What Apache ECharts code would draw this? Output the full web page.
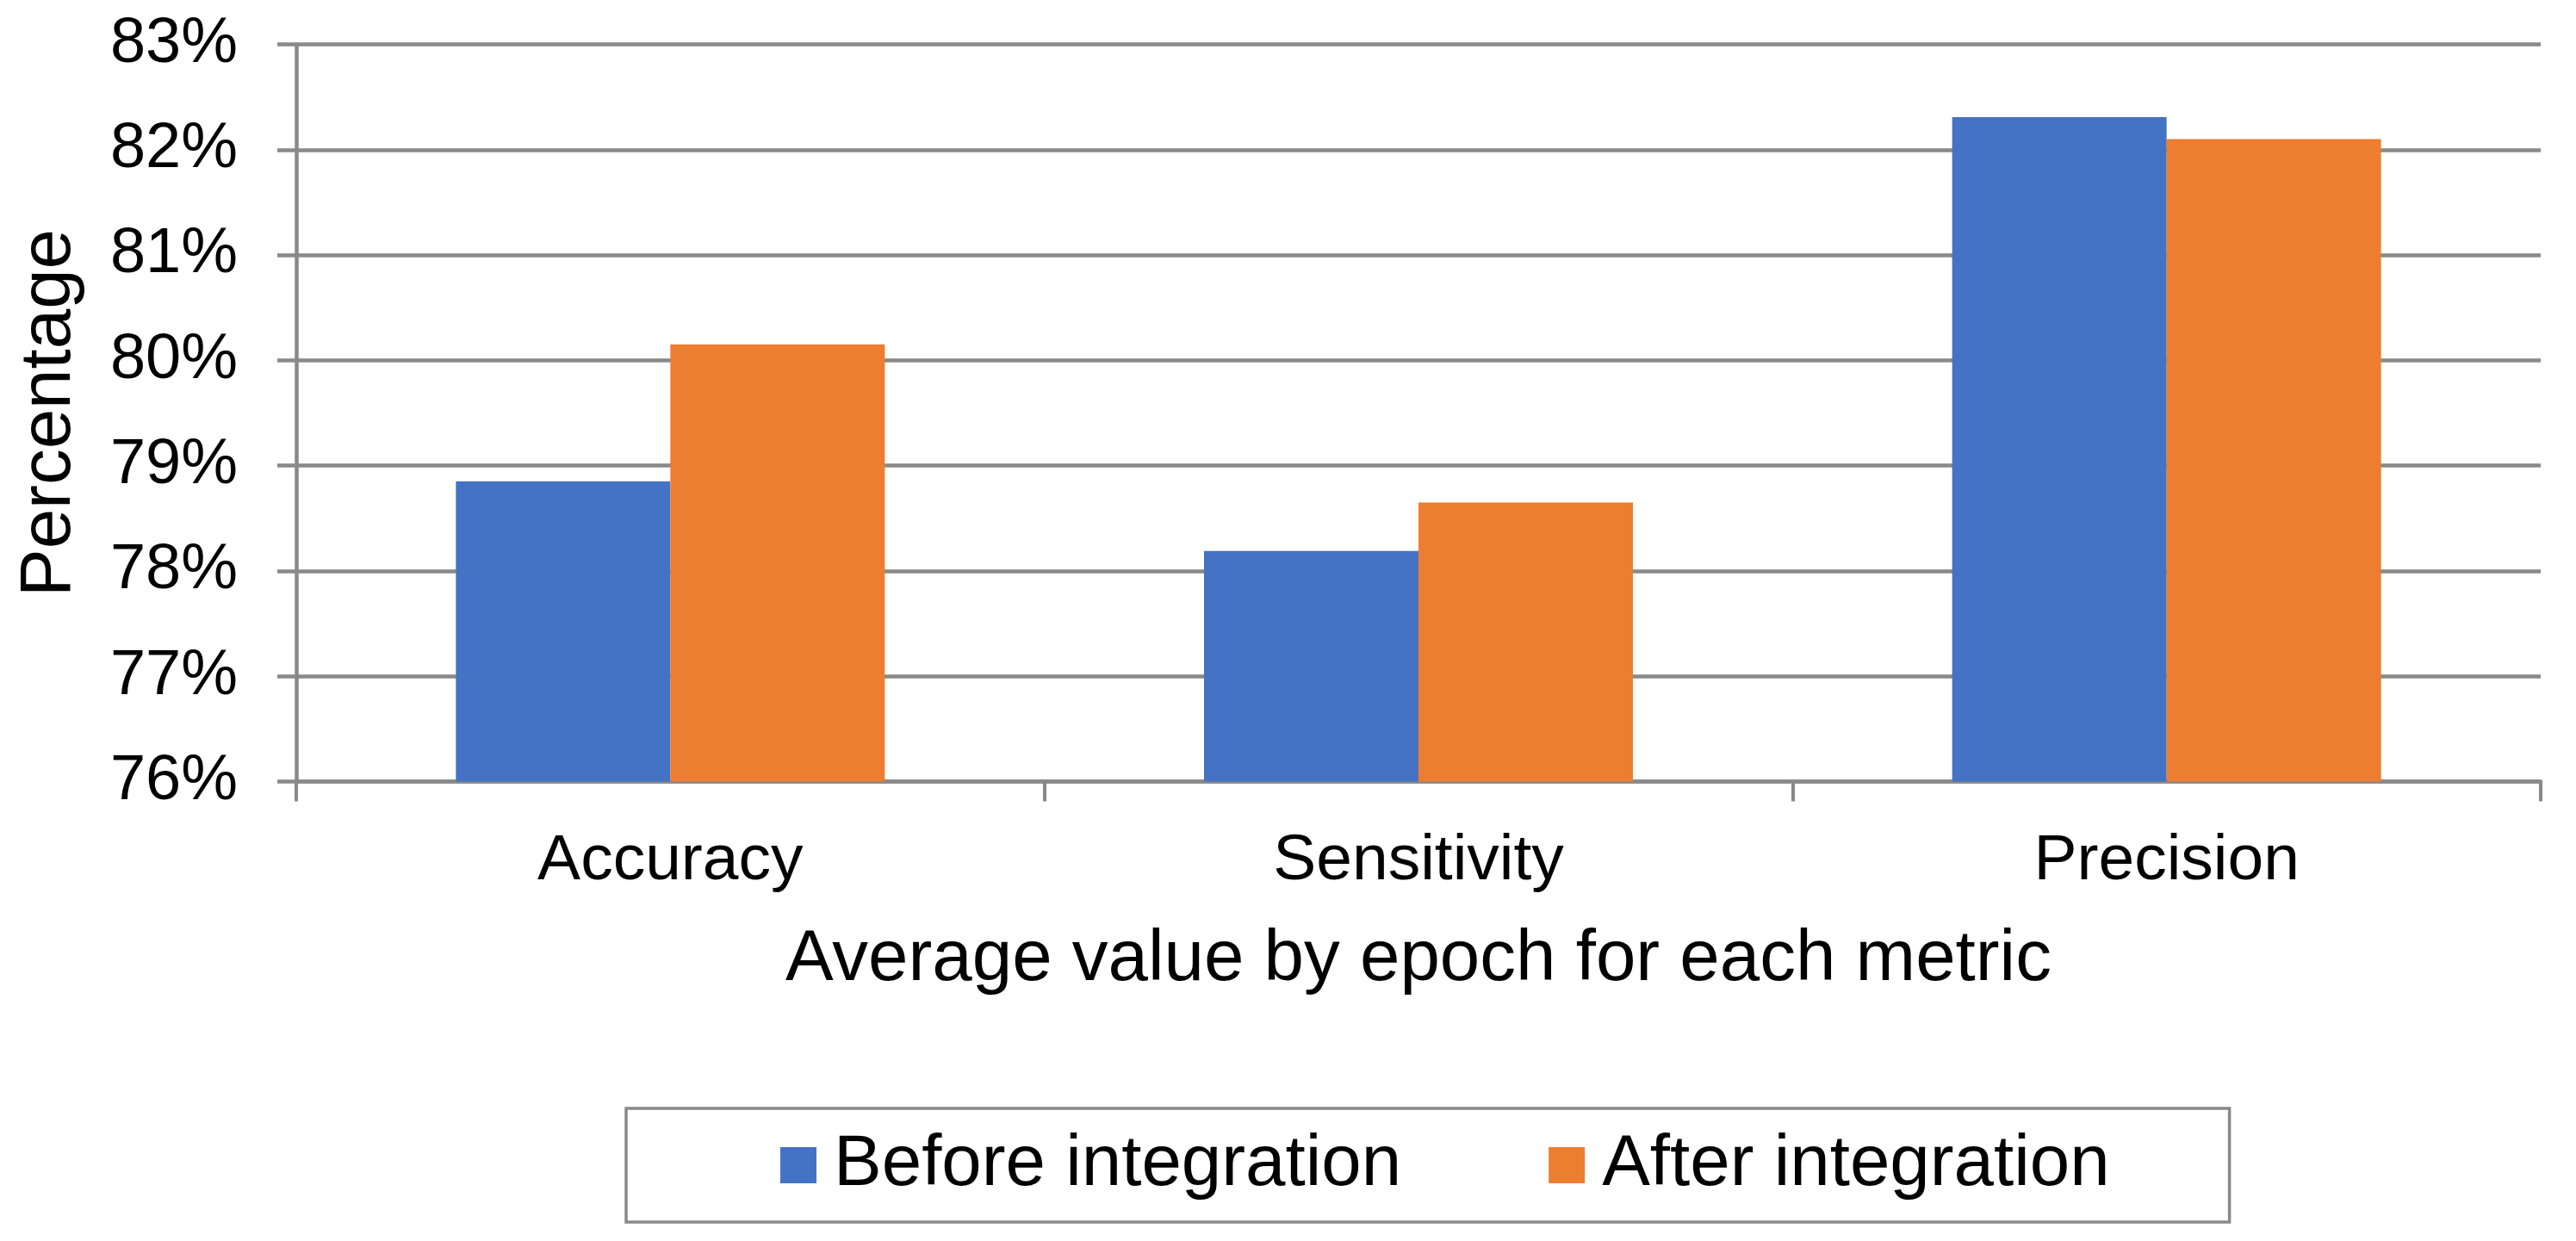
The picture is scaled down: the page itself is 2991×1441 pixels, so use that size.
<!DOCTYPE html>
<html>
<head>
<meta charset="utf-8">
<script src="https://cdn.jsdelivr.net/npm/echarts@6/dist/echarts.min.js"></script>
<style>
html,body{margin:0;padding:0;background:#fff;}
#chart{width:2991px;height:1441px;}
</style>
</head>
<body>
<div id="chart"></div>
<script>
const categories = ['Accuracy', 'Sensitivity', 'Precision'];
const seriesNames = ['Before integration', 'After integration'];
const beforeValues = [78.85, 78.19, 82.31];
const afterValues = [80.15, 78.65, 82.10];
const yMin = 76, yMax = 83, yStep = 1;

const FONT = '"Liberation Sans", Arial, sans-serif';
const GRAY = '#898989';

const chart = echarts.init(document.getElementById('chart'), null, {renderer: 'canvas'});
chart.setOption({
  backgroundColor: '#ffffff',
  animation: false,
  textStyle: {fontFamily: FONT, color: '#000'},
  grid: {left: 344, right: 41, top: 51.5, bottom: 533.5},
  legend: {
    data: seriesNames,
    left: 727,
    top: 1287,
    icon: 'rect',
    itemWidth: 42,
    itemHeight: 42,
    itemGap: 171,
    padding: [24, 139, 24, 179],
    borderColor: GRAY,
    borderWidth: 3.5,
    textStyle: {fontSize: 83.5, fontFamily: FONT, color: '#000', padding: [0, 0, 0, 15]}
  },
  xAxis: {
    type: 'category',
    data: categories,
    name: 'Average value by epoch for each metric',
    nameLocation: 'middle',
    nameGap: 165,
    nameTextStyle: {fontSize: 83.5, fontFamily: FONT, color: '#000'},
    axisLine: {show: true, lineStyle: {color: GRAY, width: 4.5}},
    axisTick: {show: true, length: 23, lineStyle: {color: GRAY, width: 4}},
    axisLabel: {fontSize: 75, fontFamily: FONT, color: '#000', margin: 55},
    splitLine: {show: false}
  },
  yAxis: {
    type: 'value',
    min: yMin,
    max: yMax,
    interval: yStep,
    name: 'Percentage',
    nameLocation: 'middle',
    nameGap: 244,
    nameTextStyle: {fontSize: 83.5, fontFamily: FONT, color: '#000'},
    axisLine: {show: true, lineStyle: {color: GRAY, width: 4.5}},
    axisTick: {show: true, length: 22, lineStyle: {color: GRAY, width: 4.5}},
    axisLabel: {fontSize: 74, fontFamily: FONT, color: '#000', margin: 68, formatter: '{value}%'},
    splitLine: {show: true, lineStyle: {color: GRAY, width: 4.5}}
  },
  series: [
    {name: seriesNames[0], type: 'bar', data: beforeValues, barWidth: 249, barGap: '0%',
     itemStyle: {color: '#4472C4'}},
    {name: seriesNames[1], type: 'bar', data: afterValues, barWidth: 249, barGap: '0%',
     itemStyle: {color: '#ED7D31'}}
  ]
});
</script>
</body>
</html>
